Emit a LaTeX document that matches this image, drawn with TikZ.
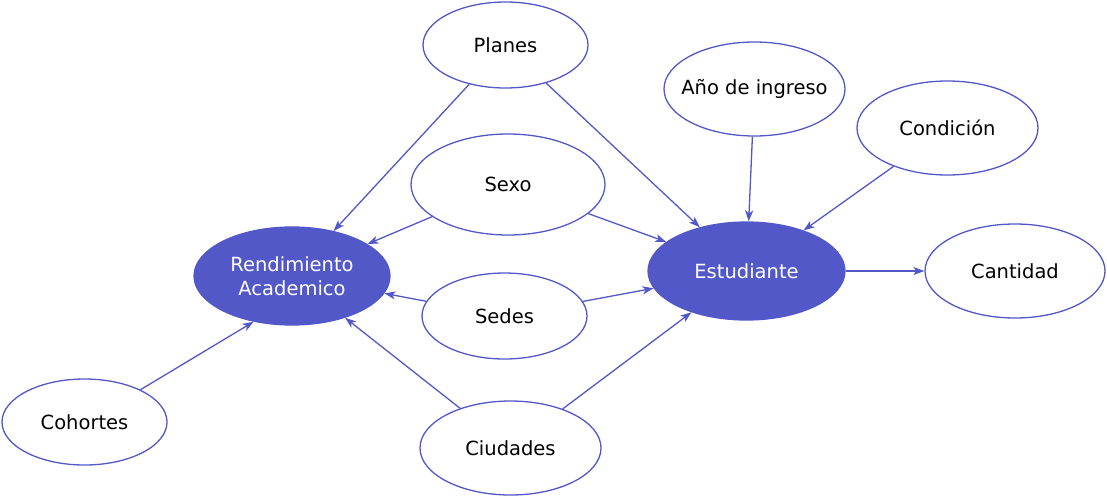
\documentclass[tikz,border=0pt]{standalone}
\usepackage{fontspec}
\setmainfont{DejaVu Sans}
\usetikzlibrary{shapes.geometric, arrows.meta}
\definecolor{tono}{RGB}{82,88,200}

\begin{document}
\begin{tikzpicture}[x=1pt, y=-1pt,
        font=\fontsize{19.5}{24}\selectfont,
        attr/.style={ellipse, draw=tono, line width=1.3pt, inner sep=-12pt},
        central/.style={attr, fill=tono, text=white},
        link/.style={draw=tono, line width=1.3pt, -{Stealth[length=11pt, width=8pt, inset=3pt]}}]
        \useasboundingbox (0,0) rectangle (1107,498);

        % Atributos
        \node[attr, minimum width=165pt, minimum height=86pt] (planes) at (505.5,45) {Planes};
        \node[attr, minimum width=181pt, minimum height=94pt] (anio) at (754.5,89) {Año de ingreso};
        \node[attr, minimum width=181pt, minimum height=94pt] (condicion) at (947.5,128) {Condición};
        \node[attr, minimum width=194pt, minimum height=101pt] (sexo) at (508,184.5) {Sexo};
        \node[attr, minimum width=165pt, minimum height=86pt] (sedes) at (504.5,316) {Sedes};
        \node[attr, minimum width=181pt, minimum height=94pt] (ciudades) at (510.5,448) {Ciudades};
        \node[attr, minimum width=165pt, minimum height=86pt] (cohortes) at (84.5,422) {Cohortes};
        \node[attr, minimum width=180pt, minimum height=94pt] (cantidad) at (1015,271) {Cantidad};

        % Nodos centrales
        \node[central, minimum width=196pt, minimum height=98pt, align=center] (rendimiento) at (292,276) {Rendimiento\\Academico};
        \node[central, minimum width=197pt, minimum height=98pt] (estudiante) at (746.5,271) {Estudiante};

        % Flechas
        \draw[link] (planes) -- (rendimiento);
        \draw[link] (planes) -- (estudiante);
        \draw[link] (sexo) -- (rendimiento);
        \draw[link] (sexo) -- (estudiante);
        \draw[link] (sedes) -- (rendimiento);
        \draw[link] (sedes) -- (estudiante);
        \draw[link] (ciudades) -- (rendimiento);
        \draw[link] (ciudades) -- (estudiante);
        \draw[link] (cohortes.30) -- (rendimiento.230);
        \draw[link] (anio) -- (estudiante);
        \draw[link] (condicion) -- (estudiante);
        \draw[link] (estudiante) -- (cantidad);
    \end{tikzpicture}
\end{document}
